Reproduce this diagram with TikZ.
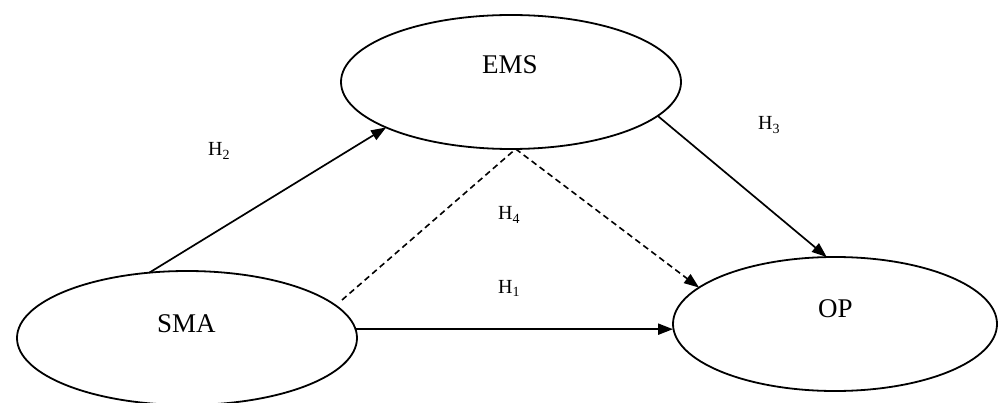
\documentclass[tikz,border=0pt]{standalone}
\usepackage{fontspec}
\setmainfont{Liberation Serif}
\usetikzlibrary{arrows.meta,shapes.geometric}
\begin{document}
\begin{tikzpicture}[x=1pt,y=-1pt,
  construct/.style={draw,ellipse,line width=1.8pt,inner sep=0pt,outer sep=0pt,minimum width=340pt,minimum height=134pt},
  bigtext/.style={anchor=base west,inner sep=0pt,font=\fontsize{27}{30}\selectfont},
  hyp/.style={anchor=base west,inner sep=0pt,font=\fontsize{20}{23}\selectfont},
  tip/.style={-{Triangle[length=15pt,width=11pt]}},
  link/.style={line width=1.7pt,tip},
  dashlink/.style={line width=1.6pt,dash pattern=on 6pt off 4pt}
]
\useasboundingbox (0,0) rectangle (1000,403);
\node[construct] (ems) at (511,82) {};
\node[construct] (sma) at (187,338) {};
\node[construct,minimum width=324pt] (op) at (835,324) {};
\node[bigtext] (emst) at (482,74) {EMS};
\node[bigtext] (smat) at (157,332) {SMA};
\node[bigtext] (opt) at (818,317) {OP};
\node[hyp] (h2) at (208,156) {H\textsubscript{2}};
\node[hyp] (h3) at (758,130) {H\textsubscript{3}};
\node[hyp] (h4) at (498,220) {H\textsubscript{4}};
\node[hyp] (h1) at (498,293) {H\textsubscript{1}};
\coordinate (d1) at (342,300);
\draw[link] (sma.120) -- (ems.200);
\draw[link] (ems.-13) -- (op.97);
\draw[link,line width=2.2pt] (sma.3) -- (sma.3 -| op.west);
\draw[dashlink] (d1) -- (ems.-86);
\draw[dashlink,tip] (ems.-86) -- (op.165);
\end{tikzpicture}
\end{document}
